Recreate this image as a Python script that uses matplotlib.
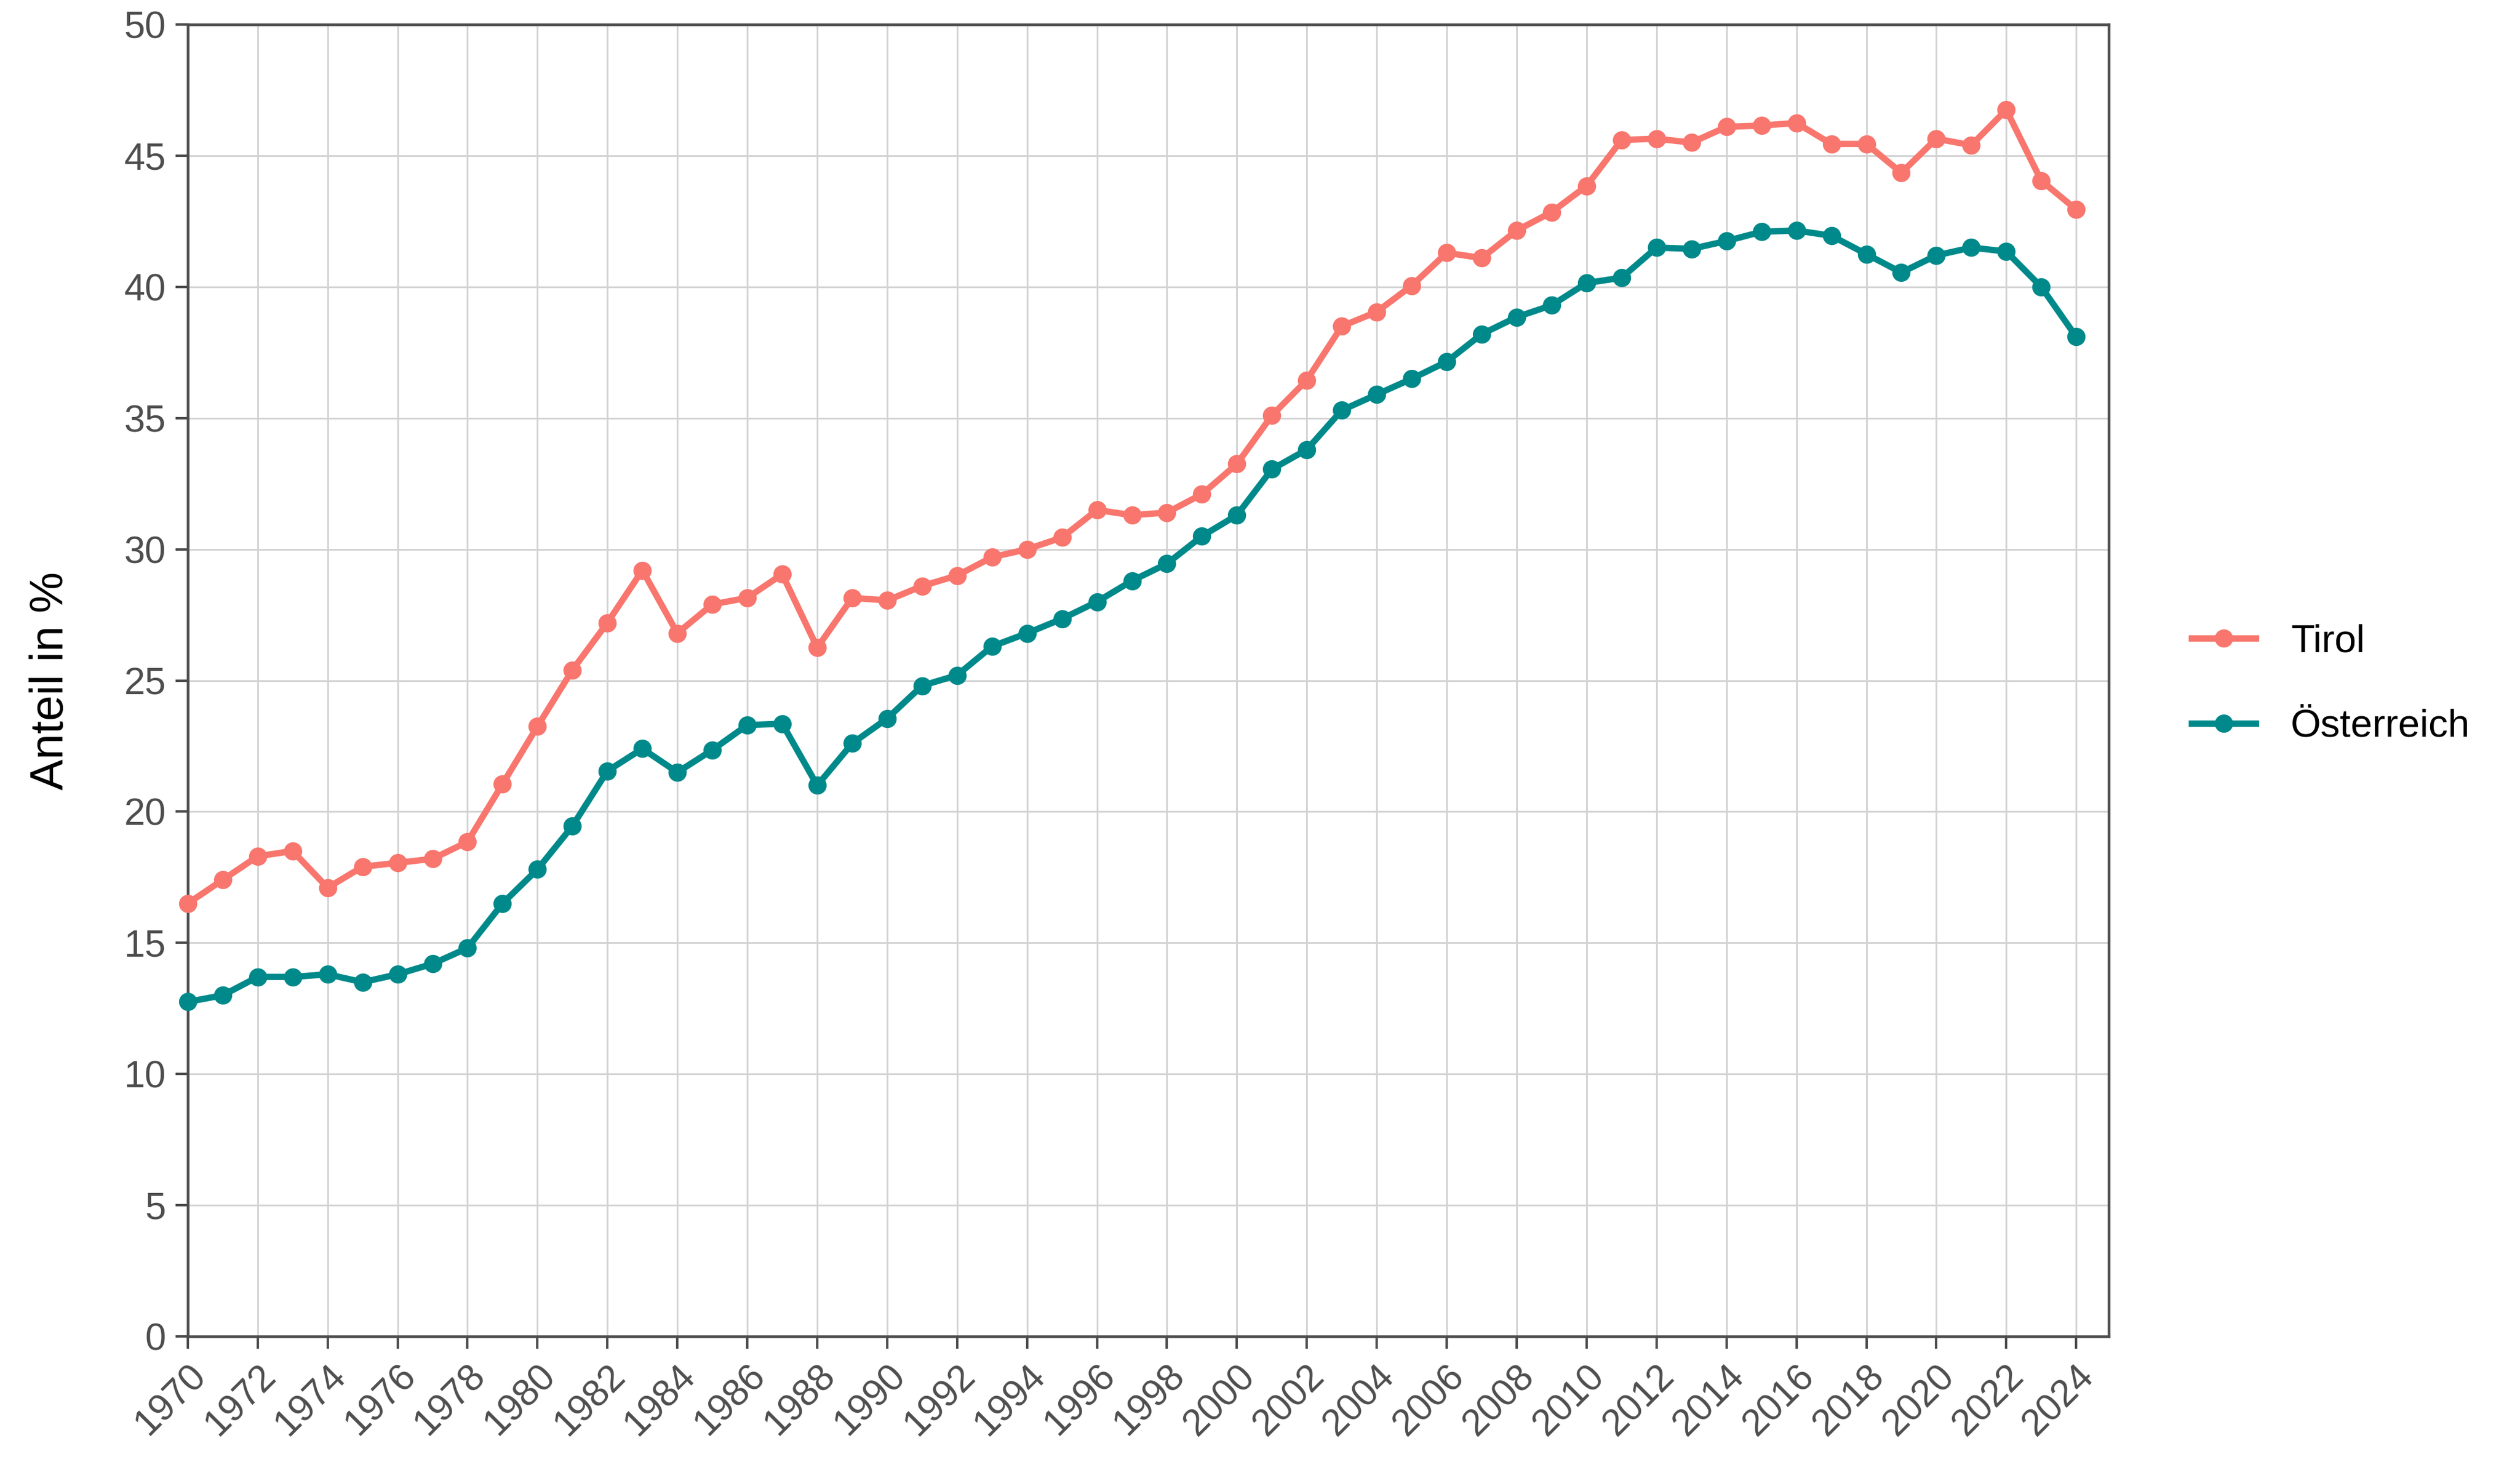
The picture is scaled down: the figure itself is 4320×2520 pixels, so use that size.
import numpy as np
import matplotlib
matplotlib.use("Agg")
import matplotlib.pyplot as plt

plt.rcParams['font.family'] = ['Liberation Sans', 'DejaVu Sans']

years = list(range(1970, 2025))

tirol = [16.5, 17.4, 18.3, 18.5, 17.1, 17.9, 18.05, 18.2, 18.85, 21.05,
         23.25, 25.4, 27.2, 29.2, 26.8, 27.9, 28.15, 29.05, 26.25, 28.15,
         28.05, 28.6, 29.0, 29.7, 30.0, 30.45, 31.5, 31.3, 31.4, 32.1,
         33.25, 35.1, 36.45, 38.5, 39.05, 40.05, 41.3, 41.1, 42.15, 42.85,
         43.85, 45.6, 45.65, 45.5, 46.1, 46.15, 46.25, 45.45, 45.45, 44.35,
         45.65, 45.4, 46.75, 44.05, 42.95]

oesterreich = [12.75, 13.0, 13.7, 13.7, 13.8, 13.5, 13.8, 14.2, 14.8, 16.5,
               17.8, 19.45, 21.55, 22.4, 21.5, 22.35, 23.3, 23.35, 21.0, 22.6,
               23.55, 24.8, 25.2, 26.3, 26.8, 27.35, 28.0, 28.8, 29.45, 30.5,
               31.3, 33.05, 33.8, 35.3, 35.9, 36.5, 37.15, 38.2, 38.85, 39.3,
               40.15, 40.35, 41.5, 41.45, 41.75, 42.1, 42.15, 41.95, 41.25, 40.55,
               41.2, 41.5, 41.35, 40.0, 38.1]

series = ["Tirol", "Österreich"]
colors = ["#F8766D", "#00898A"]

fig = plt.figure(figsize=(14.4, 8.4), dpi=300)
ax = fig.add_axes([0.0745, 0.0909, 0.7623, 0.8924])

for name, vals, col in zip(series, [tirol, oesterreich], colors):
    ax.plot(years, vals, color=col, lw=2.6, marker='o', markersize=6.5,
            label=name, clip_on=False, zorder=3)

ax.set_xlim(1970, 2024.93)
ax.set_ylim(0, 50)
ax.set_xticks(range(1970, 2025, 2))
ax.set_yticks(range(0, 51, 5))
ax.tick_params(axis='x', labelrotation=45)
for lab in ax.get_xticklabels():
    lab.set_ha('right')
    lab.set_rotation_mode('anchor')

ax.grid(True, color='#D3D3D3', lw=0.7)
ax.set_axisbelow(True)
for sp in ax.spines.values():
    sp.set_color('#4D4D4D')
    sp.set_linewidth(1.1)
ax.tick_params(colors='#4D4D4D', labelsize=15.5, length=5, width=1.0, pad=4)

ax.set_ylabel("Anteil in %", fontsize=19, labelpad=21)

ax.legend(loc='center left', bbox_to_anchor=(1.025, 0.497), frameon=False,
          fontsize=16, handlelength=1.65, handletextpad=0.9, labelspacing=1.25)

fig.savefig("out.png", dpi=300)
